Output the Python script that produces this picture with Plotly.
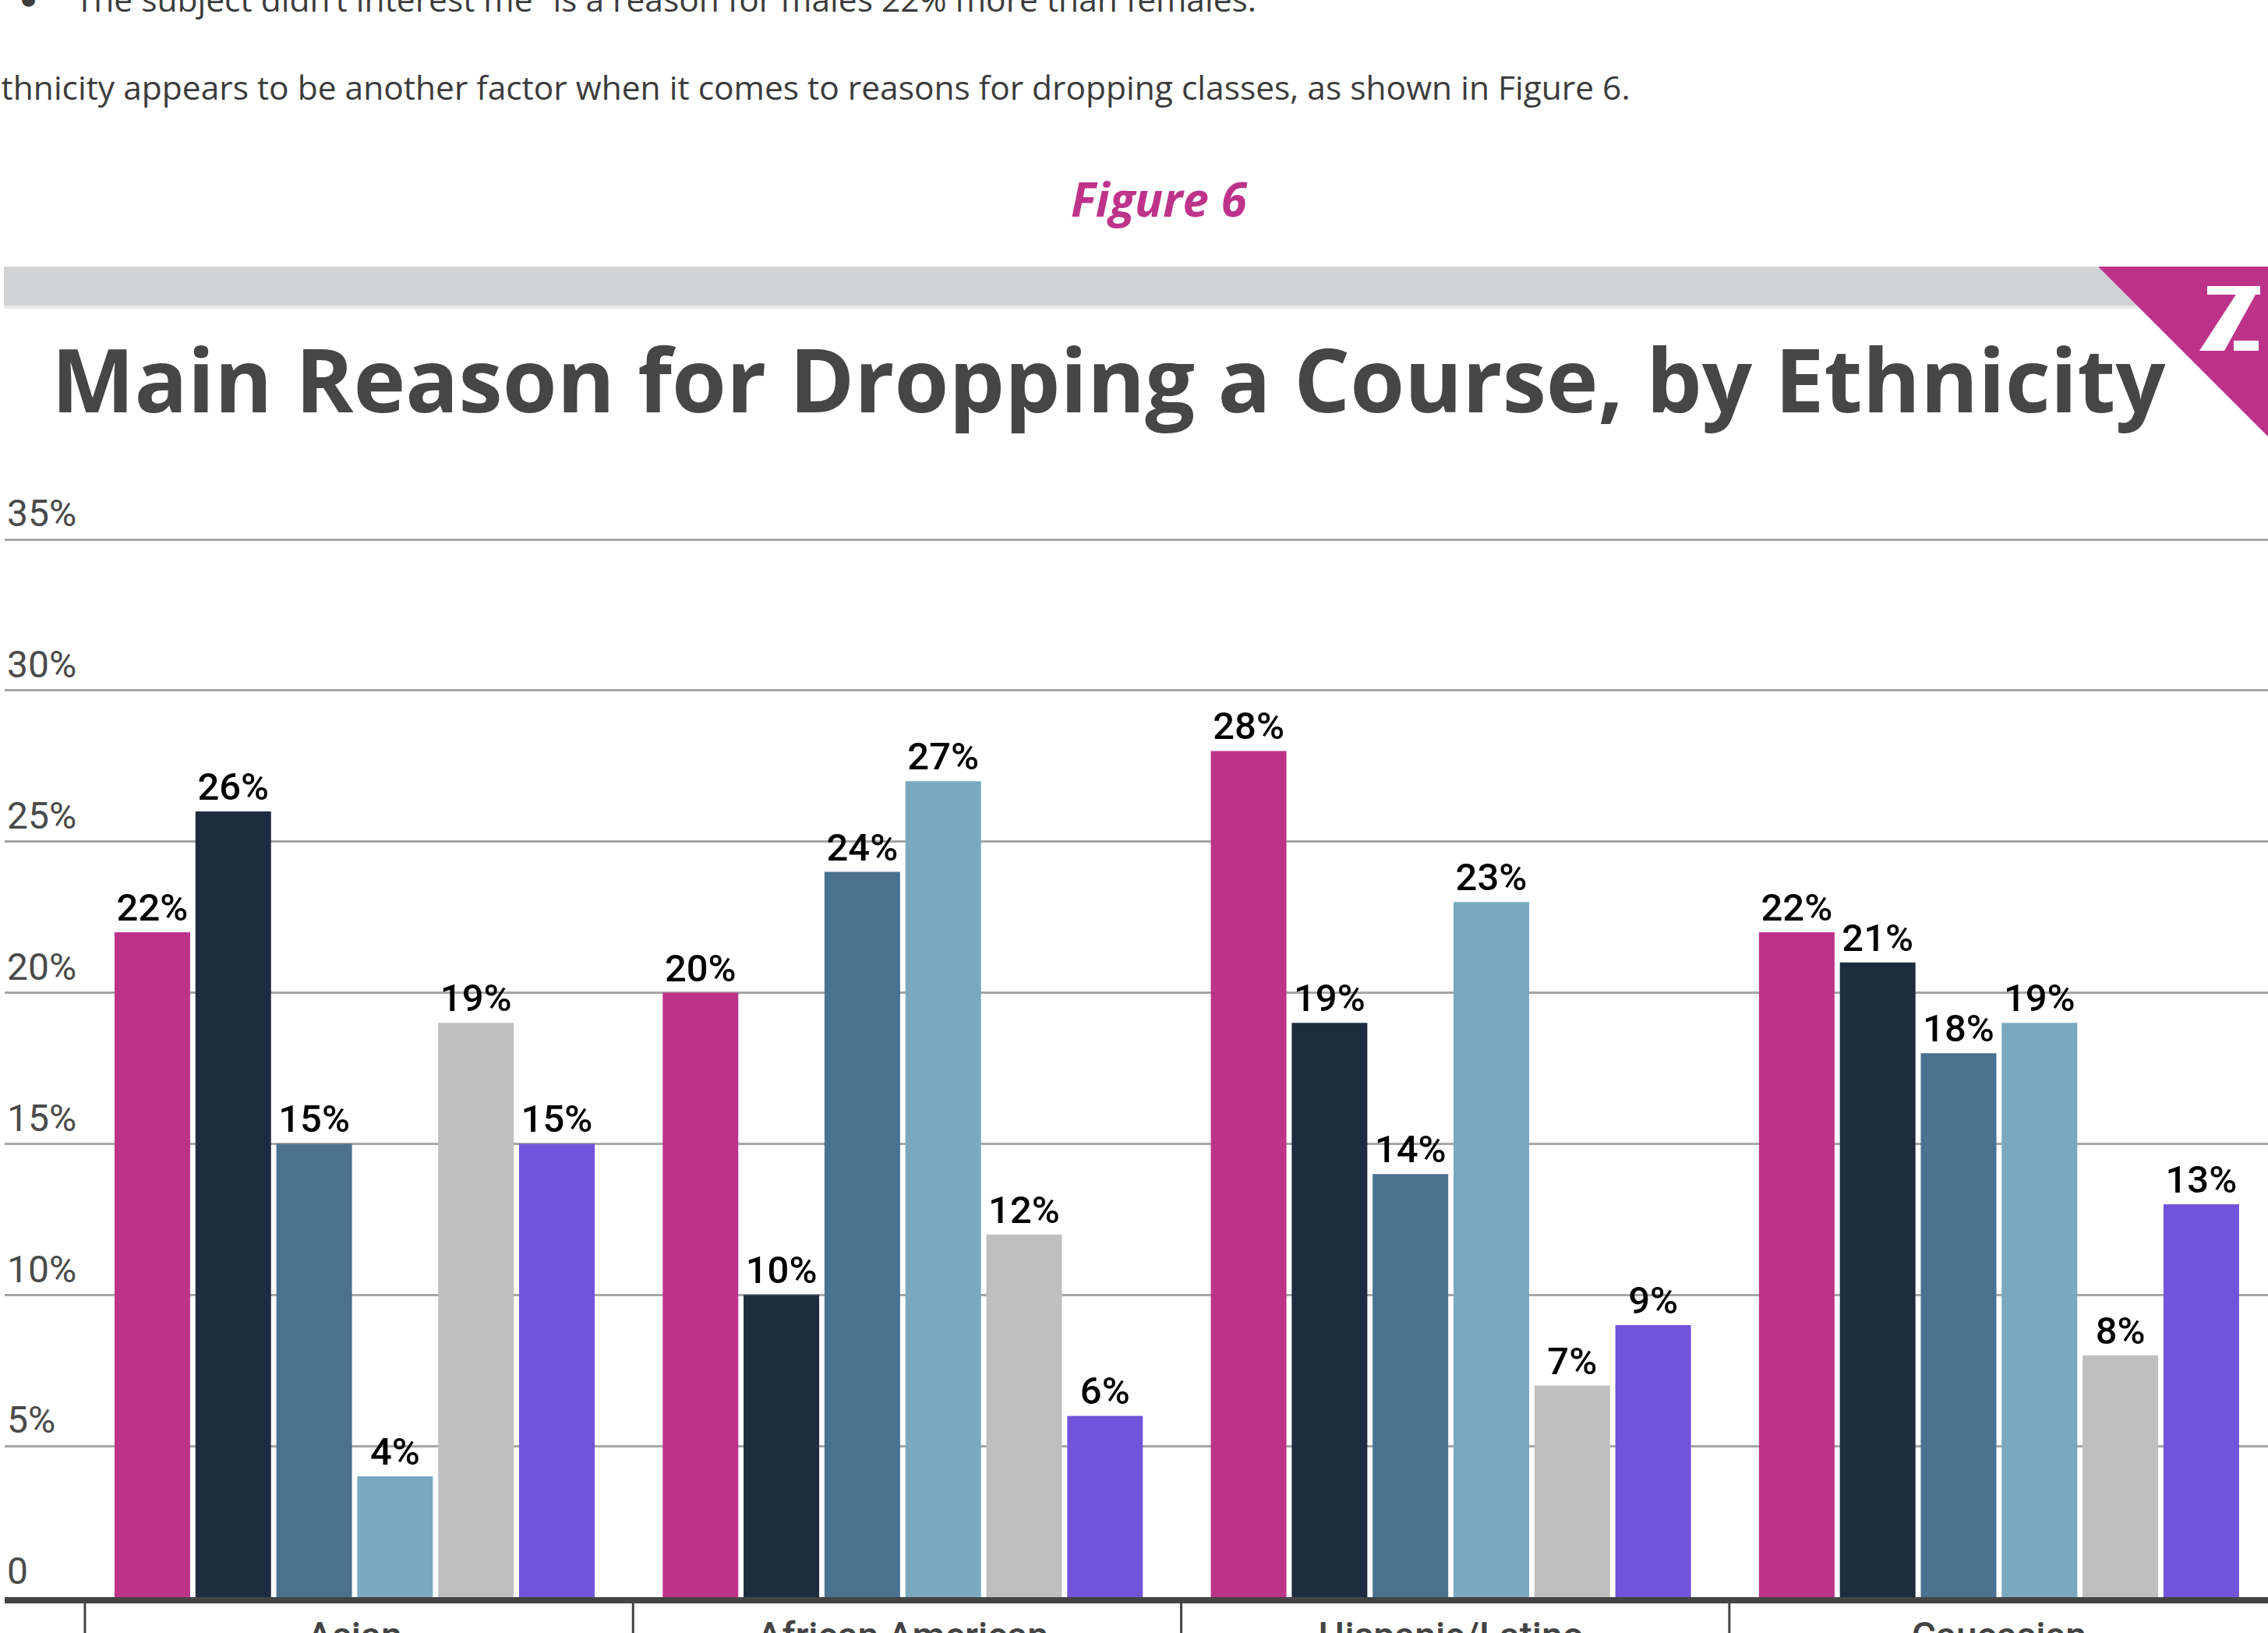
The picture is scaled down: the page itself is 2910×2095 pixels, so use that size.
import plotly.graph_objects as go

W, H = 2910, 2095

# ---------------- data ----------------
categories = ["Asian", "African American", "Hispanic/Latino", "Caucasian"]
series_names = ["Reason 1", "Reason 2", "Reason 3", "Reason 4", "Reason 5", "Reason 6"]
reason_1 = [22, 20, 28, 22]
reason_2 = [26, 10, 19, 21]
reason_3 = [15, 24, 14, 18]
reason_4 = [4, 27, 23, 19]
reason_5 = [19, 12, 7, 8]
reason_6 = [15, 6, 9, 13]
series_values = [reason_1, reason_2, reason_3, reason_4, reason_5, reason_6]
series_colors = ["#BE338A", "#1D2D3F", "#4A718E", "#78A9C1", "#BFBFBF", "#7054DA"]
y_tick_values = [0, 5, 10, 15, 20, 25, 30, 35]
y_tick_labels = ["0", "5%", "10%", "15%", "20%", "25%", "30%", "35%"]

title_text = "Main Reason for Dropping a Course, by Ethnicity"
figure_label = "Figure 6"
para_line_1 = "\u201cThe subject didn\u2019t interest me\u201d is a reason for males 22% more than females."
para_line_2 = "Ethnicity appears to be another factor when it comes to reasons for dropping classes, as shown in Figure 6."


def px(x):
    return x / W


def py(y):
    return 1 - y / H


def poly(points):
    return "M " + " L ".join(f"{px(x)} {py(y)}" for x, y in points) + " Z"


fig = go.Figure()
for name, vals, col in zip(series_names, series_values, series_colors):
    fig.add_trace(go.Bar(
        name=name, x=categories, y=vals,
        marker=dict(color=col, line=dict(width=0)),
        text=[f"{v}%" for v in vals],
        textposition="outside",
        constraintext="none",
        cliponaxis=False,
        textfont=dict(family="Roboto", size=49, color="#000000", weight=500),
        hoverinfo="skip",
    ))

shapes = []
# grey header band
shapes.append(dict(type="rect", xref="paper", yref="paper",
                   x0=px(5), x1=px(2910), y0=py(392), y1=py(342),
                   fillcolor="#D1D3D4", line=dict(width=0), layer="below"))
shapes.append(dict(type="rect", xref="paper", yref="paper",
                   x0=px(5), x1=px(2910), y0=py(396), y1=py(392),
                   fillcolor="#E8E9EA", line=dict(width=0), layer="below"))
# magenta corner triangle
shapes.append(dict(type="path", xref="paper", yref="paper",
                   path=poly([(2692, 342), (2912, 342), (2912, 562)]),
                   fillcolor="#BE338A", line=dict(width=0)))
# Z logo
shapes.append(dict(type="path", xref="paper", yref="paper",
                   path=poly([(2832, 367), (2900, 367), (2900, 378), (2832, 378)]),
                   fillcolor="white", line=dict(width=0)))
shapes.append(dict(type="path", xref="paper", yref="paper",
                   path=poly([(2876, 367), (2900, 367), (2854, 450), (2822, 450)]),
                   fillcolor="white", line=dict(width=0)))
shapes.append(dict(type="path", xref="paper", yref="paper",
                   path=poly([(2866, 437), (2898, 437), (2898, 450), (2866, 450)]),
                   fillcolor="white", line=dict(width=0)))
# category dividers below the axis
for i in range(len(categories)):
    shapes.append(dict(type="line", xref="x", yref="paper",
                       x0=i - 0.492, x1=i - 0.492, y0=py(2056), y1=py(2100),
                       line=dict(color="#444444", width=3)))

annotations = [
    dict(text="\u25CF", x=px(36), y=py(-2), xref="paper", yref="paper",
         xanchor="center", yanchor="middle", showarrow=False,
         font=dict(family="DejaVu Sans", size=22, color="#3C3C3C")),
    dict(text=para_line_1, x=px(80), y=py(15 - 0.388 * 42.5), xref="paper", yref="paper",
         xanchor="left", yanchor="middle", showarrow=False,
         font=dict(family="Open Sans", size=42.5, color="#3C3C3C")),
    dict(text=para_line_2, x=px(2094), y=py(128 - 0.388 * 42.5), xref="paper", yref="paper",
         xanchor="right", yanchor="middle", showarrow=False,
         font=dict(family="Open Sans", size=42.5, color="#3C3C3C")),
    dict(text=f"<i><b>{figure_label}</b></i>", x=px(1487), y=py(278 - 0.388 * 60), xref="paper", yref="paper",
         xanchor="center", yanchor="middle", showarrow=False,
         font=dict(family="Open Sans", size=60, color="#BE338A")),
    dict(text=f"<b>{title_text}</b>", x=px(64), y=py(529 - 0.388 * 113), xref="paper", yref="paper",
         xanchor="left", yanchor="middle", showarrow=False,
         font=dict(family="Open Sans", size=113, color="#464646")),
]

fig.update_layout(
    template="none",
    width=W, height=H,
    margin=dict(l=0, r=0, t=0, b=0, pad=0, autoexpand=False),
    paper_bgcolor="white", plot_bgcolor="white",
    barmode="group", bargap=0.1144, bargroupgap=0.0655,
    showlegend=False,
    shapes=shapes,
    annotations=annotations,
    xaxis=dict(
        domain=[px(6), 1.0],
        range=[-0.6384, 3.4907],
        automargin=False,
        showgrid=False, zeroline=False,
        showline=True, linecolor="#444444", linewidth=8,
        ticks="",
        tickfont=dict(family="Roboto", size=48, color="#444444", weight=500),
    ),
    yaxis=dict(
        domain=[py(2049), py(614.5)],
        range=[0, 37],
        automargin=False,
        tickvals=y_tick_values, ticktext=y_tick_labels,
        ticklabelposition="inside top",
        ticks="",
        tickfont=dict(family="Roboto", size=48, color="#4A4A4A"),
        showgrid=True, gridcolor="#A6A6A6", gridwidth=3,
        zeroline=False, showline=False,
    ),
)

fig.write_html("out.html")
